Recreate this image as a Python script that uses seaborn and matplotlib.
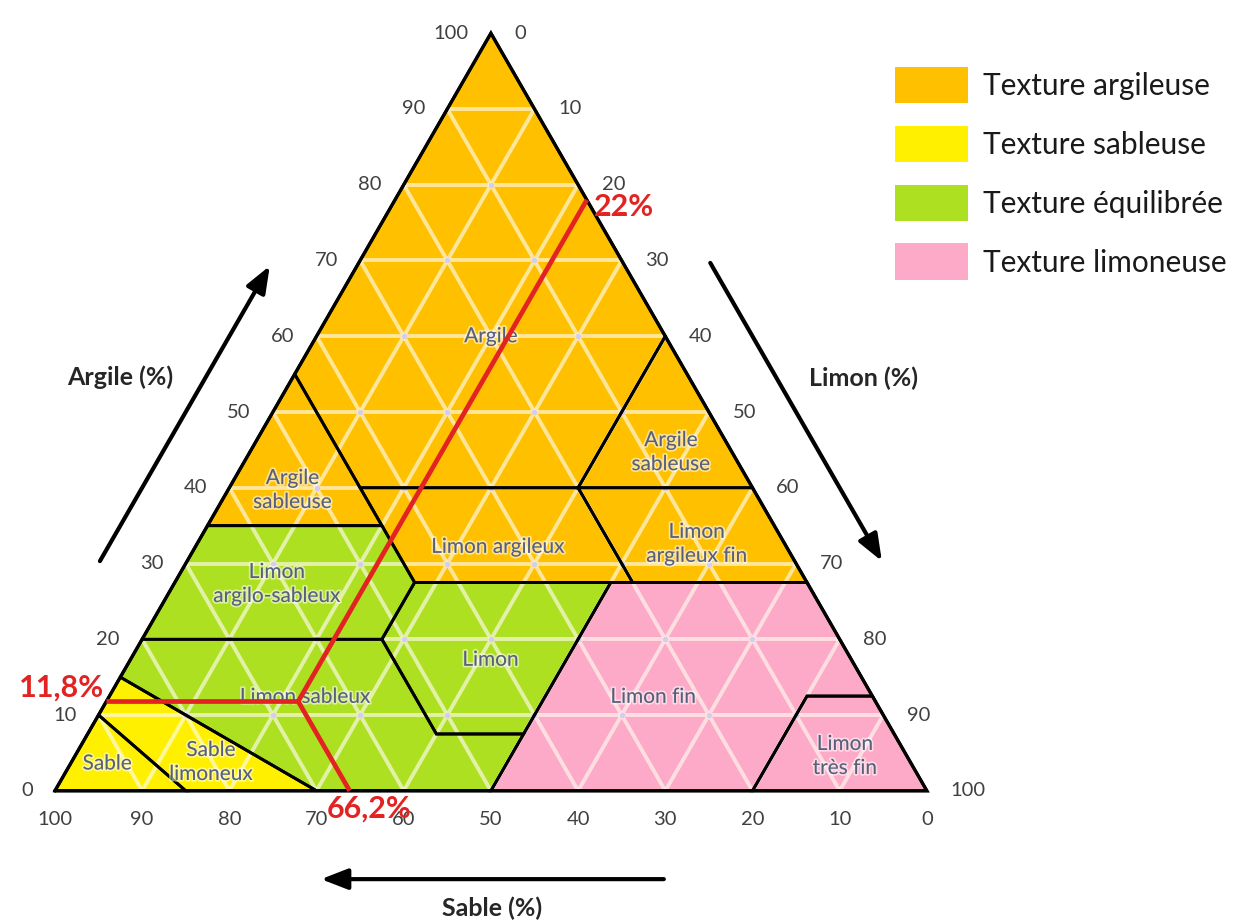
import numpy as np
import pandas as pd
import matplotlib.pyplot as plt
import seaborn as sns
from matplotlib.patches import Polygon, Patch, FancyArrowPatch
import matplotlib.patheffects as pe

sns.set_theme(style="white")
plt.rcParams['font.family'] = ['Lato', 'DejaVu Sans']

# texture classes, vertices given as (argile %, limon %) ; sable = 100 - argile - limon
argile = [(100, 0), (55, 0), (40, 15), (40, 40), (60, 40)]
argile_sableuse_g = [(55, 0), (35, 0), (35, 20), (40, 15)]
argile_sableuse_d = [(40, 40), (60, 40), (40, 60)]
limon_argileux = [(40, 15), (40, 40), (27.5, 52.5), (27.5, 27.5), (35, 20)]
limon_argileux_fin = [(40, 40), (40, 60), (27.5, 72.5), (27.5, 52.5)]
limon_argilo_sableux = [(35, 0), (35, 20), (27.5, 27.5), (20, 27.5), (20, 0)]
limon_sableux = [(20, 0), (20, 27.5), (7.5, 40), (7.5, 50), (0, 50), (0, 30), (15, 0)]
limon = [(27.5, 27.5), (27.5, 50), (7.5, 50), (7.5, 40), (20, 27.5)]
limon_fin = [(27.5, 50), (27.5, 72.5), (12.5, 87.5), (12.5, 80), (0, 80), (0, 50)]
limon_tres_fin = [(12.5, 80), (12.5, 87.5), (0, 100), (0, 80)]
sable_limoneux = [(15, 0), (0, 30), (0, 15), (10, 0)]
sable = [(10, 0), (0, 15), (0, 0)]

groups = ['Texture argileuse', 'Texture sableuse', 'Texture équilibrée', 'Texture limoneuse']
group_colors = ['#FFC000', '#FFF000', '#AEE022', '#FDAAC8']

classes = [
    ('Argile', argile, 0, (60, 20)),
    ('Argile\nsableuse', argile_sableuse_g, 0, (39.7, 7.4)),
    ('Argile\nsableuse', argile_sableuse_d, 0, (44.7, 48.3)),
    ('Limon argileux', limon_argileux, 0, (32.2, 34.7)),
    ('Limon\nargileux fin', limon_argileux_fin, 0, (32.6, 57.3)),
    ('Limon\nargilo-sableux', limon_argilo_sableux, 2, (27.3, 11.8)),
    ('Limon sableux', limon_sableux, 2, (12.4, 22.5)),
    ('Limon', limon, 2, (17.3, 41.3)),
    ('Limon fin', limon_fin, 3, (12.4, 62.4)),
    ('Limon\ntrès fin', limon_tres_fin, 3, (4.6, 88.3)),
    ('Sable', sable, 1, (3.6, 4.2)),
    ('Sable\nlimoneux', sable_limoneux, 1, (3.8, 16.0)),
]

ticks = list(range(0, 101, 10))

# sample soil
sample_argile = 11.8
sample_sable = 66.2
sample_limon = 22.0


def to_xy(clay, silt):
    clay = np.asarray(clay, dtype=float)
    silt = np.asarray(silt, dtype=float)
    return silt + clay / 2, clay * np.sqrt(3) / 2


fig = plt.figure(figsize=(12.46, 9.22), dpi=100)
ax = fig.add_axes([0, 0, 1, 1])
ax.set_xlim(-6.3, 136.6)
ax.set_ylim(-15.0, 90.4)
ax.axis('off')

# coloured classes
for name, verts, g, pos in classes:
    c, l = zip(*verts)
    x, y = to_xy(c, l)
    ax.add_patch(Polygon(np.column_stack([x, y]), closed=True, facecolor=group_colors[g],
                         edgecolor='none', zorder=1))

# grid (10 % steps in the three directions)
for v in range(10, 100, 10):
    for c, l in [((v, v), (0, 100 - v)), ((0, 100 - v), (v, v)), ((0, 100 - v), (100 - v, 0))]:
        x, y = to_xy(c, l)
        ax.plot(x, y, color='#FFFBEF', alpha=0.65, lw=2.8, zorder=2, solid_capstyle='butt')

# grid crossings
pts = pd.DataFrame([(c, l) for c in range(10, 100, 10) for l in range(10, 100, 10) if c + l < 100],
                   columns=['argile', 'limon'])
pts['x'], pts['y'] = to_xy(pts['argile'], pts['limon'])
sns.scatterplot(data=pts, x='x', y='y', color='#D6CCEE', s=16, linewidth=0, ax=ax, zorder=3)

# class borders
for name, verts, g, pos in classes:
    c, l = zip(*verts)
    x, y = to_xy(c, l)
    ax.add_patch(Polygon(np.column_stack([x, y]), closed=True, facecolor='none',
                         edgecolor='black', lw=2.1, zorder=4))

tx, ty = to_xy([0, 100, 0, 0], [0, 0, 100, 0])
ax.plot(tx, ty, color='black', lw=2.4, zorder=5, solid_joinstyle='miter')

# class names
for name, verts, g, pos in classes:
    x, y = to_xy(*pos)
    ax.text(x, y, name, ha='center', va='center', fontsize=15, color='#586079',
            linespacing=1.25, zorder=6,
            path_effects=[pe.withStroke(linewidth=2.5, foreground=(1, 1, 1, 0.55))])

# tick labels
for t in ticks:
    ax.annotate(str(t), to_xy(t, 0), xytext=(-16, 0), textcoords='offset points',
                ha='right', va='center', fontsize=14.5, color='#404040')
    ax.annotate(str(t), to_xy(100 - t, t), xytext=(17, 0), textcoords='offset points',
                ha='left', va='center', fontsize=14.5, color='#404040')
    ax.annotate(str(t), to_xy(0, 100 - t), xytext=(0, -21), textcoords='offset points',
                ha='center', va='center', fontsize=14.5, color='#404040')

# axis arrows and titles
arrows = [((30, 0), (69.6, 0), (-10, 0)),
          ((70, 30), (30, 70), (10, 0))]
for a, b, (dx, dy) in arrows:
    x0, y0 = to_xy(*a)
    x1, y1 = to_xy(*b)
    ax.add_patch(FancyArrowPatch((x0 + dx, y0 + dy), (x1 + dx, y1 + dy),
                                 arrowstyle='-|>,head_length=0.9,head_width=0.35',
                                 mutation_scale=18, lw=3, color='black', zorder=5))
ax.add_patch(FancyArrowPatch((70.15, -10.1), (30.2, -10.1),
                             arrowstyle='-|>,head_length=0.9,head_width=0.35',
                             mutation_scale=18, lw=3, color='black', zorder=5))
ax.text(7.45, 47.3, 'Argile (%)', ha='center', va='center', fontsize=18,
        fontweight='bold', color='#262626')
ax.text(92.7, 47.15, 'Limon (%)', ha='center', va='center', fontsize=18,
        fontweight='bold', color='#262626')
ax.text(50.1, -13.4, 'Sable (%)', ha='center', va='center', fontsize=18,
        fontweight='bold', color='#262626')

# sample reading
red = '#E32322'
lines = [((sample_argile, sample_argile), (0, sample_limon)),
         ((sample_argile, 0), (sample_limon, 100 - sample_sable)),
         ((sample_argile, 100 - sample_limon), (sample_limon, sample_limon))]
for c, l in lines:
    x, y = to_xy(c, l)
    ax.plot(x, y, color=red, lw=3.4, zorder=7, solid_capstyle='butt')

ax.annotate(f'{sample_argile:.1f}%'.replace('.', ','), to_xy(sample_argile, 0),
            xytext=(-2, 10), textcoords='offset points', ha='right', va='center',
            fontsize=22, fontweight='bold', color=red, zorder=8)
ax.annotate(f'{sample_sable:.1f}%'.replace('.', ','), to_xy(0, 100 - sample_sable),
            xytext=(14, -13), textcoords='offset points', ha='center', va='center',
            fontsize=22, fontweight='bold', color=red, zorder=8)
ax.annotate(f'{sample_limon:.0f}%', to_xy(100 - sample_limon, sample_limon),
            xytext=(27, -5), textcoords='offset points', ha='center', va='center',
            fontsize=22, fontweight='bold', color=red, zorder=8)

# legend
handles = [Patch(facecolor=col, edgecolor='none') for col in group_colors]
fig.legend(handles, groups, loc='upper left', bbox_to_anchor=(895 / 1246, 1 - 67 / 922),
           frameon=False, fontsize=21.5, handlelength=2.45, handleheight=1.5,
           handletextpad=0.5, labelspacing=0.75, borderpad=0, borderaxespad=0,
           labelcolor='#1A1A1A')

fig.savefig('out.png', dpi=100)
